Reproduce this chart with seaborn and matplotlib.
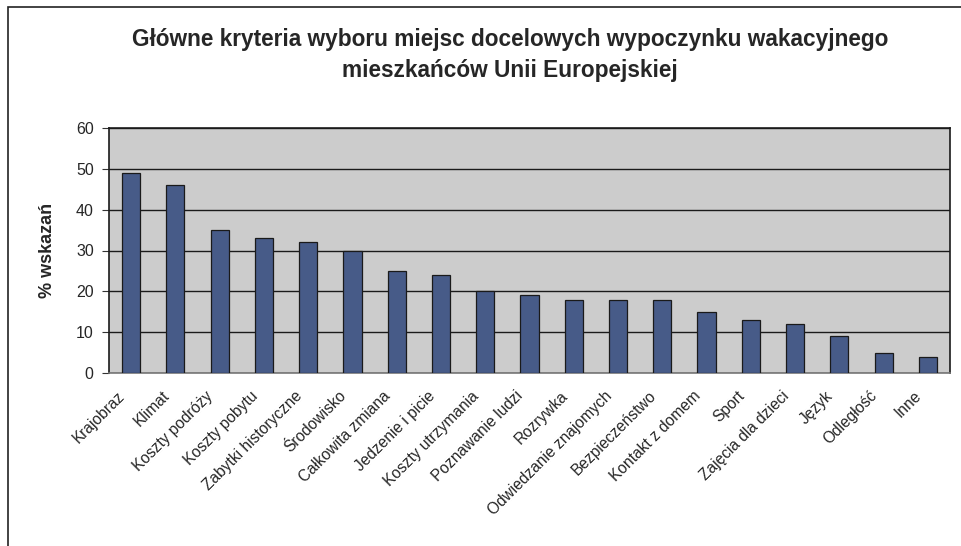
import pandas as pd
import matplotlib.pyplot as plt
import matplotlib.transforms as mtransforms
import seaborn as sns
from matplotlib.patches import Rectangle

kryteria = ['Krajobraz', 'Klimat', 'Koszty podróży', 'Koszty pobytu', 'Zabytki historyczne',
            'Środowisko', 'Całkowita zmiana', 'Jedzenie i picie', 'Koszty utrzymania',
            'Poznawanie ludzi', 'Rozrywka', 'Odwiedzanie znajomych', 'Bezpieczeństwo',
            'Kontakt z domem', 'Sport', 'Zajęcia dla dzieci', 'Język', 'Odległość', 'Inne']
wskazania = [49, 46, 35, 33, 32, 30, 25, 24, 20, 19, 18, 18, 18, 15, 13, 12, 9, 5, 4]
y_ticks = [0, 10, 20, 30, 40, 50, 60]

sns.set_style('white')
plt.rcParams['font.family'] = ['Liberation Sans', 'DejaVu Sans']

df = pd.DataFrame({'kryterium': kryteria, 'proc': wskazania})

W, H = 961, 546
fig = plt.figure(figsize=(W / 100, H / 100), dpi=100)
ax = fig.add_axes([109 / W, 1 - 373 / H, 841 / W, 245 / H])

sns.barplot(data=df, x='kryterium', y='proc', color='#475B88', saturation=1,
            width=0.41, edgecolor='#1a1a1a', linewidth=0.9, ax=ax, zorder=3)

ax.set_facecolor('#CCCCCC')
ax.set_ylim(0, 60)
ax.set_xlim(-0.5, len(kryteria) - 0.5)
ax.set_yticks(y_ticks)
ax.yaxis.grid(True, color='#1a1a1a', linewidth=1.0, zorder=1)
ax.set_axisbelow(True)
ax.tick_params(axis='y', labelsize=11.5, length=5, width=0.8, color='#333333', pad=6, left=True)
ax.tick_params(axis='x', length=0, labelsize=11.2, pad=11)
# labels sit a bit left of the bar centre in the original
shift = mtransforms.ScaledTranslation(-14 / 100, 0, fig.dpi_scale_trans)
for lbl in ax.get_xticklabels():
    lbl.set_rotation(45)
    lbl.set_ha('right')
    lbl.set_rotation_mode('anchor')
    lbl.set_transform(lbl.get_transform() + shift)

for s in ['left', 'top', 'right']:
    ax.spines[s].set_color('#1a1a1a')
    ax.spines[s].set_linewidth(1.2)
ax.spines['bottom'].set_color('#777777')
ax.spines['bottom'].set_linewidth(1.2)

ax.set_xlabel('')
ax.set_ylabel('% wskazań', fontsize=13, fontweight='bold', labelpad=14)

fig.text(510 / W, 1 - 55 / H, 'Główne kryteria wyboru miejsc docelowych wypoczynku wakacyjnego\nmieszkańców Unii Europejskiej',
         ha='center', va='center', fontsize=16.3, fontweight='bold', linespacing=1.45)

fig.patches.append(Rectangle((8 / W, -0.1), 1.1, 1 - 7 / H + 0.1, transform=fig.transFigure,
                             fill=False, edgecolor='#222222', linewidth=1.2))

fig.savefig('out.png', dpi=100)
